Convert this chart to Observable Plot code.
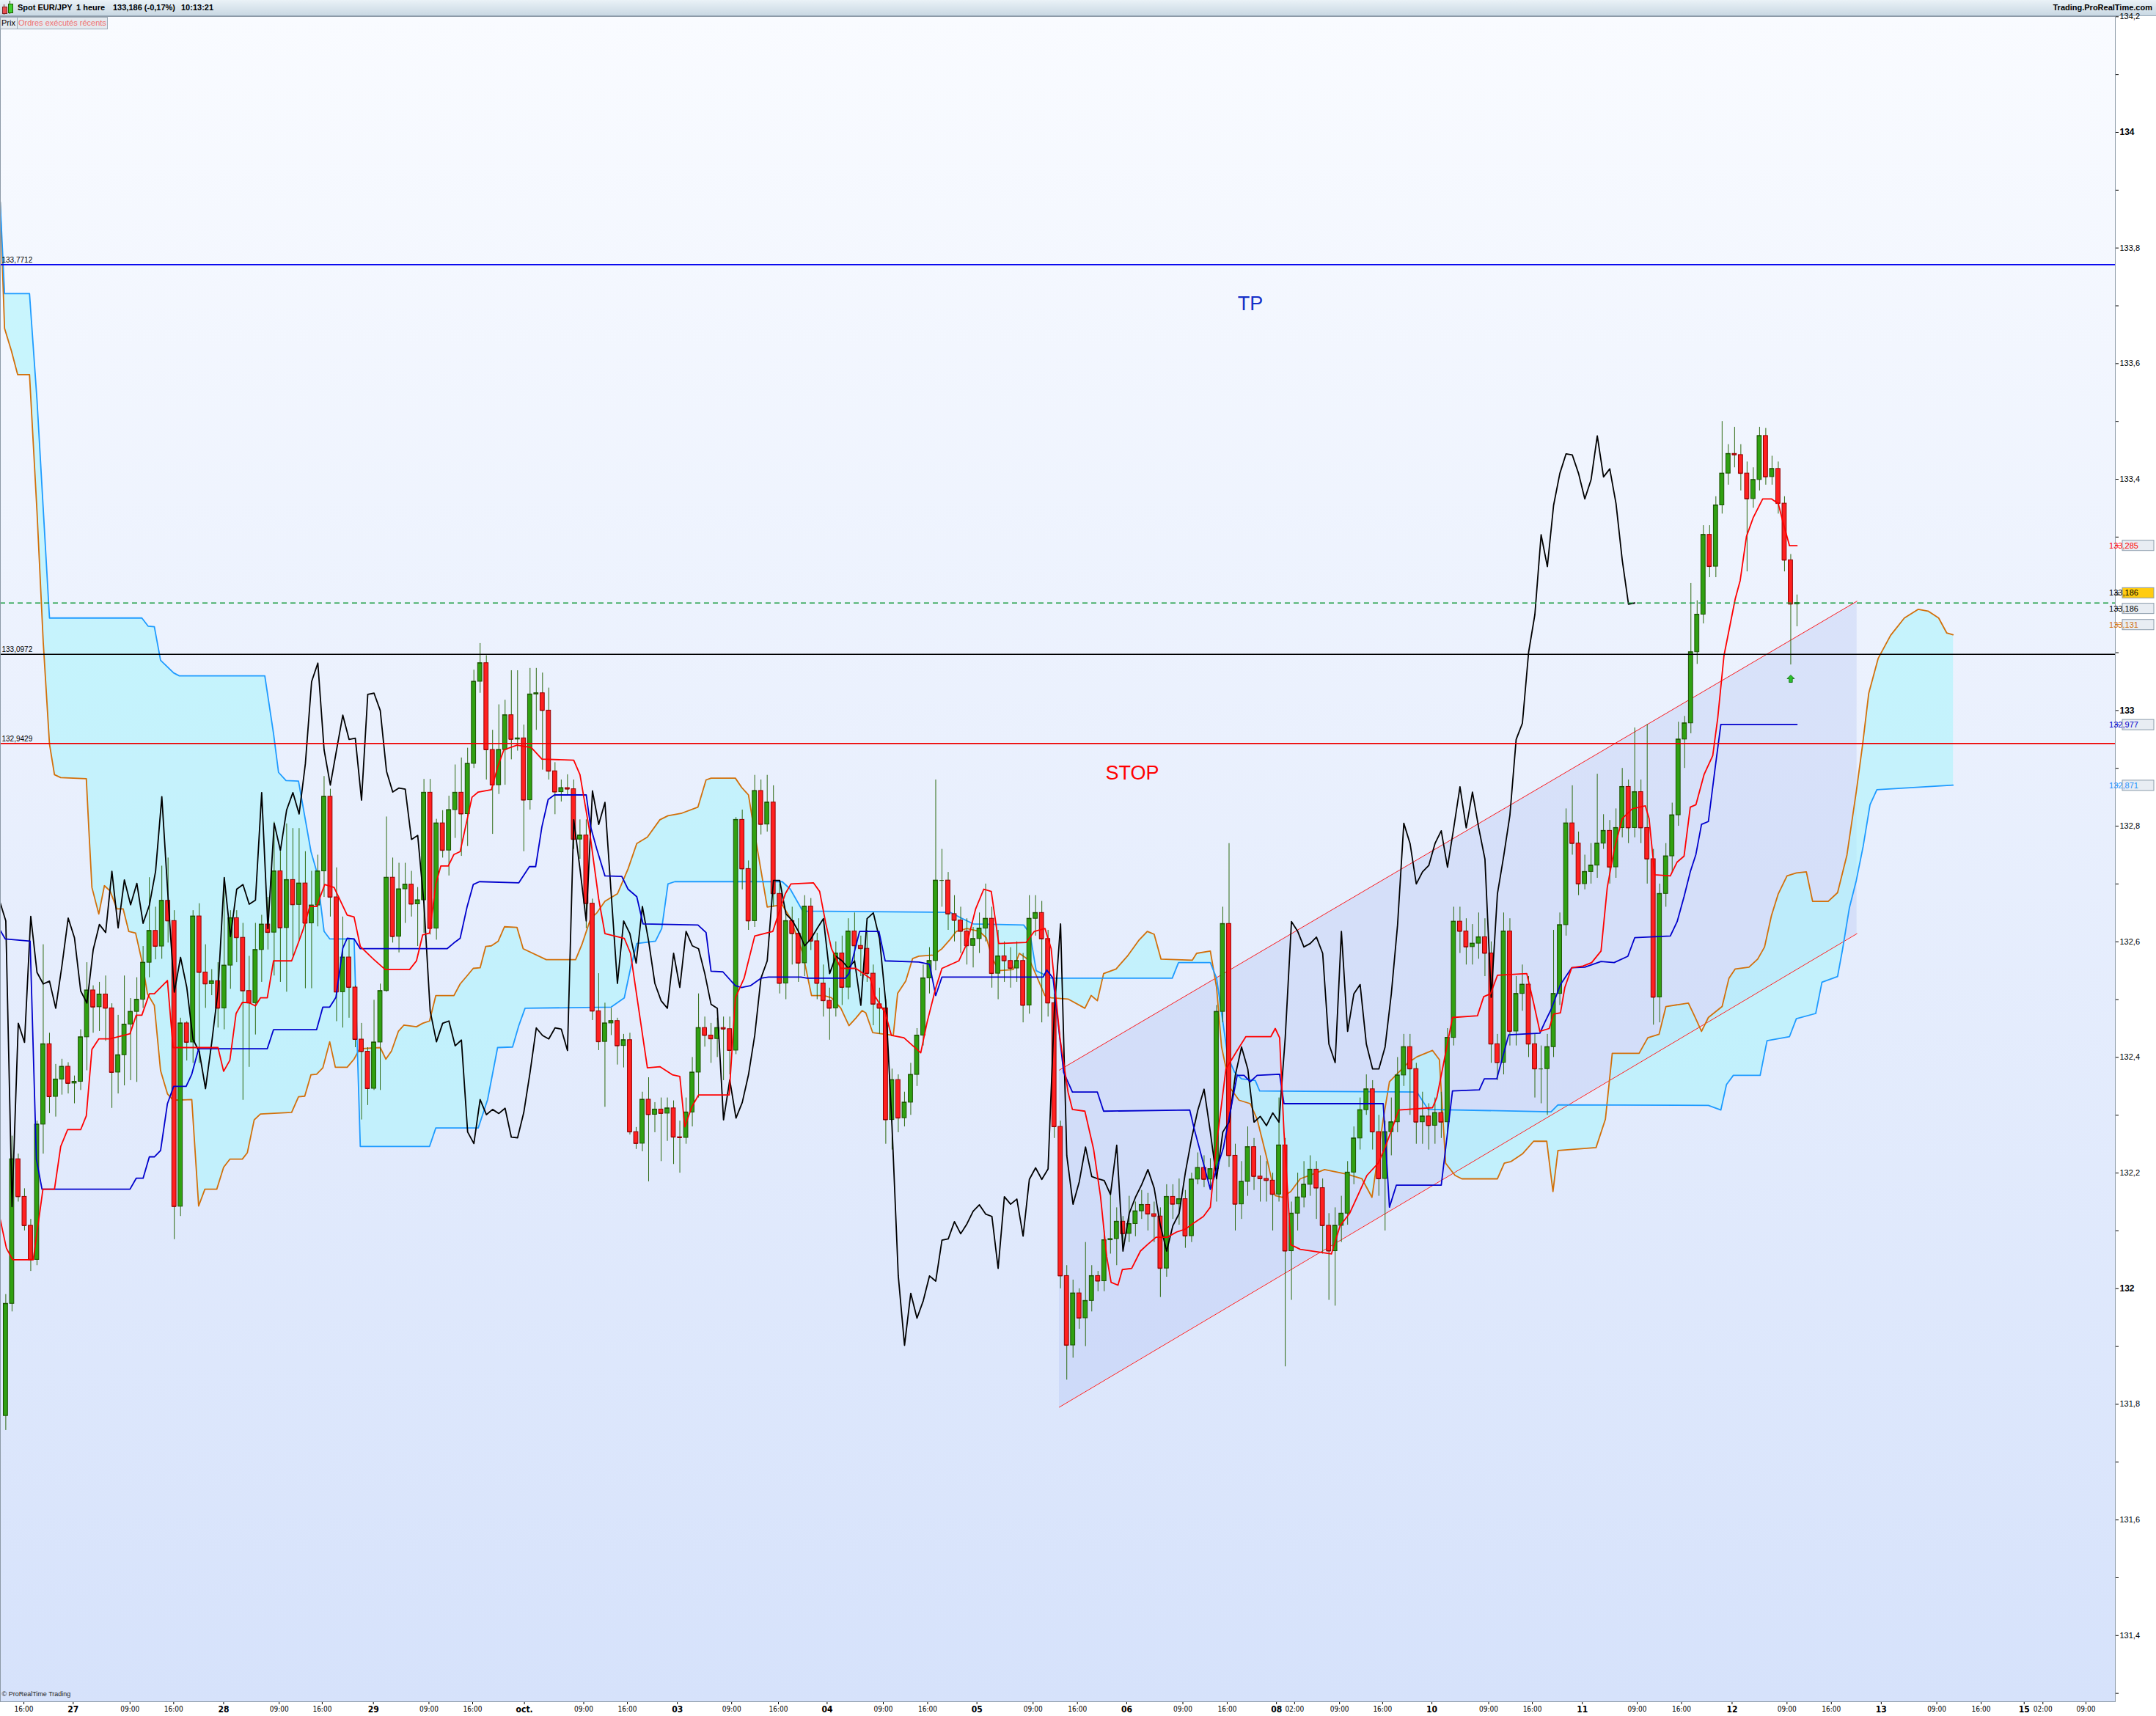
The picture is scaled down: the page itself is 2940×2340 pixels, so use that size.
<!DOCTYPE html>
<html><head><meta charset="utf-8">
<script src="https://cdn.jsdelivr.net/npm/d3@7"></script>
<script src="https://cdn.jsdelivr.net/npm/@observablehq/plot@0.6"></script>
<style>
html,body{margin:0;padding:0;background:#fff;width:2940px;height:2340px;overflow:hidden;font-family:"Liberation Sans",Arial,sans-serif;}
#header{position:absolute;left:0;top:0;width:2940px;height:21px;background:linear-gradient(#eaf2f7,#c9d8e3);border-bottom:1px solid #98a9b8;}
#header .ttl{position:absolute;top:4px;font-weight:bold;font-size:11px;color:#000;white-space:nowrap;}
#header .site{position:absolute;right:5px;top:4px;font-weight:bold;font-size:11px;color:#000;}
#header i{position:absolute;display:block;}
#bg{position:absolute;left:0;top:22px;width:2884px;height:2298px;background:linear-gradient(#f9fbff,#d6e2fb);}
#chart{position:absolute;left:0;top:22px;width:2940px;height:2318px;}
#tab{position:absolute;left:0;top:23px;height:15px;font-size:11px;line-height:15px;z-index:5;}
#tab span{position:absolute;top:0;height:15px;background:#e4e9ee;border:1px solid #9aa8b5;padding:0 1px;white-space:nowrap;}
</style></head>
<body>
<div id="header">
  <i style="left:5px;top:6px;width:1px;height:14px;background:#7a2020"></i>
  <i style="left:3px;top:9px;width:5px;height:8px;background:#e85050;border:1px solid #802020"></i>
  <i style="left:13px;top:1px;width:1px;height:18px;background:#1d5c00"></i>
  <i style="left:11px;top:5px;width:5px;height:11px;background:#40d030;border:1px solid #1d5c00"></i>
  <span class="ttl" style="left:24px">Spot EUR/JPY</span>
  <span class="ttl" style="left:104px">1 heure</span>
  <span class="ttl" style="left:154px">133,186 (-0,17%)</span>
  <span class="ttl" style="left:247px">10:13:21</span>
  <span class="site">Trading.ProRealTime.com</span>
</div>
<div id="bg"></div>
<div id="chart"></div>
<div id="tab"><span style="left:0;width:20px">Prix</span><span style="left:23px;color:#f07070">Ordres exécutés récents</span></div>
<script>
// ---- hourly candles, t = hours from "27" 00:00, first bar t = -11 ----
const firstT = -11;
const openP = [131.780,131.974,132.224,132.159,132.109,132.050,132.284,132.423,132.332,132.362,132.384,
132.355,132.358,132.435,132.516,132.487,132.509,132.485,132.374,132.404,132.457,
132.479,132.500,132.564,132.619,132.592,132.671,132.636,132.142,132.459,132.426,
132.644,132.547,132.527,132.532,132.485,132.559,132.641,132.607,132.515,132.494,
132.586,132.630,132.616,132.722,132.624,132.707,132.664,132.701,132.632,132.663,
132.722,132.851,132.677,132.513,132.573,132.521,132.431,132.410,132.346,132.426,
132.515,132.711,132.609,132.691,132.699,132.665,132.672,132.858,132.623,132.805,
132.758,132.828,132.858,132.821,132.908,133.050,133.082,132.932,132.871,132.932,
132.992,132.950,132.952,132.845,133.028,133.030,133.000,132.895,132.859,132.866,
132.864,132.777,132.784,132.666,132.480,132.427,132.459,132.463,132.420,132.430,
132.271,132.251,132.327,132.301,132.310,132.303,132.312,132.262,132.261,132.305,
132.374,132.451,132.438,132.432,132.451,132.449,132.412,132.811,132.726,132.636,
132.861,132.803,132.841,132.683,132.528,132.636,132.614,132.563,132.661,132.601,
132.528,132.498,132.485,132.580,132.521,132.618,132.593,132.588,132.545,132.492,
132.485,132.292,132.361,132.295,132.322,132.370,132.438,132.537,132.567,132.706,
132.706,132.648,132.637,132.618,132.593,132.605,132.623,132.640,132.545,132.575,
132.567,132.554,132.567,132.490,132.640,132.650,132.605,132.494,132.280,132.022,
131.902,131.992,131.949,131.979,132.022,132.013,132.084,132.086,132.116,132.095,
132.112,132.134,132.145,132.129,132.125,132.035,132.159,132.146,132.155,132.091,
132.189,132.209,132.189,132.207,132.479,132.631,132.230,132.146,132.185,132.245,
132.194,132.190,132.187,132.163,132.248,132.065,132.130,132.158,132.180,132.206,
132.174,132.109,132.065,132.109,132.130,132.201,132.260,132.309,132.345,132.271,
132.190,132.271,132.288,132.369,132.418,132.380,132.288,132.298,132.282,132.304,
132.288,132.434,132.635,132.618,132.591,132.597,132.608,132.580,132.423,132.391,
132.618,132.445,132.510,132.526,132.423,132.380,132.380,132.418,132.510,132.629,
132.805,132.770,132.700,132.721,132.732,132.770,132.792,132.729,132.797,132.868,
132.797,132.859,132.797,132.743,132.504,132.683,132.748,132.819,132.950,132.978,
133.101,133.166,133.304,133.249,133.355,133.410,133.444,133.442,133.410,133.366,
133.399,133.475,133.404,133.418,133.358,133.260,133.184];
const highP = [131.990,132.264,132.233,132.173,132.120,132.290,132.595,132.442,132.388,132.397,132.391,
132.368,132.448,132.564,132.524,132.530,132.541,132.493,132.473,132.541,132.502,
132.538,132.592,132.711,132.660,132.731,132.745,132.654,132.468,132.462,132.654,
132.666,132.595,132.552,132.564,132.711,132.654,132.654,132.632,132.575,132.632,
132.646,132.677,132.807,132.756,132.804,132.796,132.796,132.756,132.722,132.750,
132.886,132.864,132.728,132.643,132.603,132.524,132.459,132.417,132.499,132.527,
132.816,132.745,132.736,132.736,132.722,132.694,132.881,132.881,132.812,132.827,
132.852,132.906,132.918,132.935,133.070,133.116,133.095,132.966,133.010,133.018,
133.069,133.069,132.975,133.073,133.073,133.065,133.039,132.910,132.880,132.889,
132.880,132.811,132.811,132.674,132.545,132.494,132.485,132.468,132.440,132.442,
132.279,132.340,132.365,132.322,132.330,132.330,132.325,132.290,132.330,132.400,
132.510,132.470,132.459,132.468,132.470,132.470,132.815,132.828,132.740,132.888,
132.880,132.888,132.870,132.700,132.650,132.660,132.640,132.680,132.675,132.615,
132.560,132.520,132.600,132.610,132.640,132.650,132.610,132.620,132.560,132.520,
132.500,132.380,132.370,132.340,132.390,132.450,132.560,132.590,132.880,132.760,
132.720,132.680,132.660,132.640,132.625,132.650,132.700,132.660,132.620,132.600,
132.590,132.600,132.580,132.680,132.680,132.670,132.620,132.510,132.290,132.040,
132.015,132.000,132.080,132.040,132.030,132.100,132.170,132.140,132.125,132.160,
132.150,132.170,132.165,132.150,132.140,132.180,132.180,132.190,132.170,132.200,
132.235,132.230,132.225,132.490,132.660,132.770,132.250,132.220,132.280,132.260,
132.230,132.220,132.200,132.330,132.260,132.150,132.200,132.220,132.230,132.220,
132.190,132.130,132.140,132.160,132.220,132.280,132.330,132.370,132.360,132.300,
132.290,132.330,132.400,132.440,132.440,132.390,132.340,132.320,132.330,132.340,
132.450,132.660,132.660,132.640,132.630,132.650,132.640,132.600,132.440,132.650,
132.640,132.540,132.560,132.540,132.440,132.420,132.440,132.620,132.650,132.830,
132.870,132.790,132.750,132.770,132.890,132.820,132.810,132.830,132.900,132.880,
132.970,132.880,132.976,132.760,132.700,132.770,132.840,132.980,132.990,133.220,
133.190,133.320,133.320,133.370,133.500,133.460,133.490,133.460,133.430,133.420,
133.490,133.488,133.440,133.430,133.370,133.270,133.200];
const lowP = [131.755,131.960,132.150,132.100,132.030,132.040,132.233,132.303,132.297,132.335,132.337,
132.320,132.343,132.377,132.442,132.445,132.428,132.312,132.337,132.351,132.360,
132.357,132.485,132.538,132.569,132.570,132.598,132.085,132.125,132.394,132.390,
132.390,132.485,132.507,132.451,132.448,132.518,132.564,132.326,132.383,132.439,
132.530,132.586,132.541,132.530,132.513,132.575,132.603,132.519,132.519,132.626,
132.677,132.643,132.462,132.451,132.468,132.417,132.292,132.317,132.343,132.343,
132.513,132.598,132.581,132.632,132.643,132.592,132.615,132.612,132.603,132.745,
132.714,132.779,132.748,132.765,132.900,133.030,132.880,132.786,132.855,132.871,
132.915,132.930,132.756,132.828,132.966,132.897,132.880,132.820,132.842,132.854,
132.760,132.743,132.623,132.464,132.412,132.314,132.438,132.387,132.382,132.266,
132.241,132.237,132.185,132.270,132.220,132.255,132.215,132.200,132.250,132.280,
132.330,132.418,132.390,132.400,132.360,132.370,132.405,132.690,132.620,132.625,
132.785,132.790,132.660,132.510,132.500,132.560,132.530,132.540,132.585,132.500,
132.470,132.430,132.470,132.490,132.500,132.560,132.540,132.530,132.455,132.440,
132.250,132.240,132.270,132.280,132.300,132.350,132.420,132.510,132.550,132.660,
132.620,132.600,132.580,132.560,132.555,132.580,132.600,132.520,132.500,132.530,
132.520,132.530,132.460,132.475,132.610,132.460,132.470,132.260,132.000,131.842,
131.880,131.930,131.900,131.960,131.995,131.995,132.060,132.040,132.075,132.080,
132.090,132.120,132.100,132.080,131.985,132.020,132.120,132.110,132.070,132.080,
132.180,132.175,132.170,132.150,132.460,132.210,132.100,132.120,132.160,132.170,
132.150,132.150,132.100,132.150,131.865,131.980,132.100,132.140,132.160,132.120,
132.060,131.980,131.970,132.080,132.110,132.180,132.240,132.300,132.240,132.160,
132.100,132.230,132.270,132.350,132.300,132.250,132.250,132.240,132.250,132.260,
132.270,132.420,132.580,132.560,132.560,132.570,132.540,132.390,132.360,132.370,
132.420,132.420,132.480,132.400,132.330,132.320,132.300,132.400,132.490,132.610,
132.750,132.680,132.690,132.700,132.710,132.760,132.700,132.710,132.780,132.770,
132.780,132.770,132.700,132.456,132.460,132.660,132.720,132.800,132.900,132.960,
133.080,133.150,133.230,133.230,133.340,133.390,133.420,133.380,133.240,133.350,
133.380,133.390,133.390,133.340,133.240,133.079,133.145];
const closeP = [131.974,132.224,132.159,132.109,132.050,132.284,132.423,132.332,132.362,132.384,132.355,
132.358,132.435,132.516,132.487,132.509,132.485,132.374,132.404,132.457,132.479,
132.500,132.564,132.619,132.592,132.671,132.636,132.142,132.459,132.426,132.644,
132.547,132.527,132.532,132.485,132.559,132.641,132.607,132.515,132.494,132.586,
132.630,132.616,132.722,132.624,132.707,132.664,132.701,132.632,132.663,132.722,
132.851,132.677,132.513,132.573,132.521,132.431,132.410,132.346,132.426,132.515,
132.711,132.609,132.691,132.699,132.665,132.672,132.858,132.623,132.805,132.758,
132.828,132.858,132.821,132.908,133.050,133.082,132.932,132.871,132.932,132.992,
132.950,132.952,132.845,133.028,133.030,133.000,132.895,132.859,132.866,132.864,
132.777,132.784,132.666,132.480,132.427,132.459,132.463,132.420,132.430,132.271,
132.251,132.327,132.301,132.310,132.303,132.312,132.262,132.261,132.305,132.374,
132.451,132.438,132.432,132.451,132.449,132.412,132.811,132.726,132.636,132.861,
132.803,132.841,132.683,132.528,132.636,132.614,132.563,132.661,132.601,132.528,
132.498,132.485,132.580,132.521,132.618,132.593,132.588,132.545,132.492,132.485,
132.292,132.361,132.295,132.322,132.370,132.438,132.537,132.567,132.706,132.706,
132.648,132.637,132.618,132.593,132.605,132.623,132.640,132.545,132.575,132.567,
132.554,132.567,132.490,132.640,132.650,132.605,132.494,132.280,132.022,131.902,
131.992,131.949,131.979,132.022,132.013,132.084,132.086,132.116,132.095,132.112,
132.134,132.145,132.129,132.125,132.035,132.159,132.146,132.155,132.091,132.189,
132.209,132.189,132.207,132.479,132.631,132.230,132.146,132.185,132.245,132.194,
132.190,132.187,132.163,132.248,132.065,132.130,132.158,132.180,132.206,132.174,
132.109,132.065,132.109,132.130,132.201,132.260,132.309,132.345,132.271,132.190,
132.271,132.288,132.369,132.418,132.380,132.288,132.298,132.282,132.304,132.288,
132.434,132.635,132.618,132.591,132.597,132.608,132.580,132.423,132.391,132.618,
132.445,132.510,132.526,132.423,132.380,132.380,132.418,132.510,132.629,132.805,
132.770,132.700,132.721,132.732,132.770,132.792,132.729,132.797,132.868,132.797,
132.859,132.797,132.743,132.504,132.683,132.748,132.819,132.950,132.978,133.101,
133.166,133.304,133.249,133.355,133.410,133.444,133.442,133.410,133.366,133.399,
133.475,133.404,133.418,133.358,133.260,133.184,133.186];

// ---- Ichimoku lines as [hour, price] breakpoints ----
const tenkan = [[-11.9,132.12],[-10.9,132.07],[-9.9,132.05],[-6.6,132.05],[-5.05,132.172],[-3.2,132.172],[-2.2,132.246],[-1.1,132.275],[1.0,132.275],[1.9,132.299],[2.8,132.414],[3.9,132.432],[5.7,132.432],[8.9,132.441],[9.9,132.473],[10.8,132.473],[12.0,132.510],[12.8,132.510],[14.9,132.533],[15.8,132.417],[23.0,132.417],[23.9,132.376],[24.9,132.395],[25.9,132.476],[26.9,132.495],[27.9,132.495],[29.0,132.489],[29.8,132.503],[30.9,132.503],[31.9,132.567],[34.8,132.567],[35.9,132.599],[36.7,132.623],[37.7,132.661],[38.8,132.661],[40.1,132.699],[41.6,132.694],[43.7,132.646],[44.8,132.643],[45.8,132.592],[48.0,132.569],[49.8,132.552],[53.7,132.552],[54.8,132.567],[55.8,132.612],[56.9,132.615],[57.9,132.700],[58.7,132.731],[59.9,132.731],[60.8,132.751],[61.8,132.756],[63.7,132.850],[64.7,132.859],[66.8,132.863],[67.8,132.902],[68.8,132.932],[70.9,132.940],[73.2,132.936],[74.9,132.916],[80.0,132.914],[81.0,132.889],[82.5,132.794],[84.0,132.674],[85.0,132.614],[88.1,132.606],[89.1,132.580],[91.8,132.382],[93.8,132.384],[95.8,132.370],[97.0,132.367],[97.8,132.280],[98.9,132.314],[100.0,132.335],[104.9,132.335],[105.9,132.503],[107.3,132.537],[109.0,132.610],[111.9,132.618],[112.8,132.648],[113.9,132.683],[114.8,132.700],[118.4,132.702],[119.4,132.687],[120.4,132.631],[121.3,132.588],[122.8,132.554],[125.2,132.554],[127.5,132.537],[128.2,132.507],[129.9,132.477],[130.9,132.438],[132.9,132.434],[135.6,132.408],[136.6,132.460],[138.0,132.520],[139.0,132.554],[141.7,132.567],[143.0,132.597],[144.4,132.657],[145.7,132.691],[146.9,132.687],[148.1,132.597],[152.5,132.599],[153.8,132.618],[155.5,132.623],[156.5,132.588],[157.9,132.434],[159.2,132.340],[159.9,132.310],[161.9,132.307],[163.3,132.241],[164.4,132.160],[165.4,132.055],[166.1,132.011],[167.2,132.006],[167.9,132.033],[169.4,132.035],[170.8,132.065],[171.9,132.076],[173.3,132.089],[175.1,132.089],[176.6,132.098],[178.0,132.103],[179.4,132.114],[180.9,132.125],[182.0,132.141],[183.0,132.250],[184.5,132.380],[186.3,132.412],[187.7,132.436],[191.7,132.436],[192.4,132.450],[193.1,132.434],[193.8,132.271],[194.9,132.076],[196.4,132.068],[201.4,132.060],[202.8,132.109],[204.3,132.130],[205.7,132.163],[207.1,132.196],[208.9,132.217],[210.0,132.244],[211.5,132.288],[212.2,132.309],[217.6,132.313],[218.3,132.331],[219.4,132.391],[220.8,132.469],[224.8,132.472],[225.8,132.505],[226.9,132.510],[228.0,132.542],[232.7,132.545],[233.8,132.494],[234.8,132.445],[236.3,132.450],[237.0,132.475],[238.1,132.477],[238.8,132.521],[239.9,132.555],[241.7,132.558],[243.1,132.564],[244.6,132.584],[245.6,132.694],[246.7,132.759],[248.0,132.813],[249.6,132.830],[251.7,132.835],[252.3,132.813],[253.2,132.716],[255.7,132.714],[256.8,132.738],[257.9,132.748],[258.9,132.833],[259.8,132.837],[261.1,132.889],[262.5,132.922],[263.3,132.987],[264.3,133.095],[266.1,133.193],[266.9,133.225],[267.9,133.301],[269.0,133.334],[270.5,133.366],[271.9,133.366],[273.0,133.358],[273.7,133.328],[274.8,133.285],[276.0,133.285]];
const kijun = [[-11.9,132.620],[-11.1,132.605],[-7.1,132.601],[-6.1,132.224],[-5.2,132.172],[8.9,132.172],[9.9,132.191],[11.0,132.191],[12.0,132.228],[12.8,132.228],[13.8,132.239],[14.9,132.320],[15.9,132.350],[17.9,132.350],[18.8,132.371],[19.9,132.415],[30.9,132.415],[31.9,132.448],[38.8,132.448],[39.8,132.487],[40.9,132.487],[41.9,132.504],[43.0,132.589],[43.7,132.606],[44.8,132.605],[45.8,132.588],[59.7,132.588],[60.8,132.598],[61.8,132.606],[62.9,132.660],[63.9,132.699],[64.9,132.704],[71.2,132.702],[72.9,132.730],[73.9,132.730],[74.9,132.799],[75.9,132.846],[76.9,132.854],[82.0,132.854],[82.7,132.799],[83.7,132.760],[85.0,132.714],[87.7,132.713],[88.7,132.691],[90.1,132.678],[91.1,132.631],[99.9,132.629],[101.2,132.616],[102.0,132.549],[103.9,132.548],[105.9,132.524],[106.9,132.521],[108.3,132.524],[110.0,132.537],[111.2,132.539],[116.4,132.539],[117.4,132.537],[123.5,132.537],[124.1,132.545],[125.8,132.618],[128.9,132.618],[129.9,132.567],[135.3,132.565],[137.0,132.561],[138.0,132.507],[139.0,132.539],[155.2,132.539],[155.8,132.551],[156.8,132.537],[158.5,132.374],[159.9,132.340],[163.9,132.340],[164.9,132.307],[178.7,132.309],[179.4,132.277],[182.0,132.172],[183.0,132.206],[184.1,132.244],[186.3,132.369],[187.4,132.369],[188.4,132.358],[189.5,132.369],[193.1,132.371],[193.8,132.320],[209.7,132.320],[210.7,132.141],[211.8,132.179],[219.0,132.179],[220.8,132.342],[225.1,132.344],[225.9,132.363],[227.9,132.363],[229.8,132.439],[234.8,132.442],[235.6,132.461],[236.6,132.483],[238.1,132.526],[239.9,132.555],[242.0,132.556],[244.6,132.566],[246.7,132.564],[248.9,132.575],[250.0,132.607],[255.7,132.610],[256.8,132.635],[257.9,132.678],[258.9,132.721],[259.8,132.751],[260.7,132.803],[261.8,132.808],[262.9,132.902],[263.8,132.976],[276.0,132.976]];
const senkouA = [[-11.9,133.88],[-11.2,133.661],[-10.1,133.622],[-9.1,133.581],[-7.2,133.581],[-6.0,133.344],[-5.0,133.118],[-4.0,132.942],[-3.2,132.889],[-2.2,132.884],[1.9,132.882],[2.3,132.796],[2.8,132.694],[3.9,132.648],[4.8,132.697],[5.7,132.688],[6.8,132.657],[7.8,132.657],[8.7,132.618],[9.8,132.615],[10.8,132.567],[11.7,132.510],[12.8,132.490],[13.8,132.377],[14.9,132.337],[15.8,132.326],[18.8,132.327],[19.9,132.143],[20.9,132.172],[22.8,132.172],[23.9,132.210],[24.9,132.224],[26.9,132.224],[27.7,132.235],[28.8,132.292],[29.8,132.302],[34.8,132.305],[35.9,132.332],[36.9,132.333],[37.9,132.370],[38.8,132.371],[39.8,132.382],[40.9,132.427],[41.8,132.383],[43.7,132.383],[44.8,132.397],[45.7,132.415],[49.0,132.417],[49.9,132.397],[50.8,132.411],[51.9,132.445],[52.8,132.456],[54.8,132.453],[55.8,132.459],[56.9,132.463],[57.9,132.507],[60.8,132.507],[61.8,132.527],[62.9,132.541],[63.9,132.554],[65.0,132.555],[65.9,132.592],[66.8,132.593],[67.9,132.601],[68.9,132.626],[70.9,132.625],[71.9,132.588],[75.6,132.569],[80.3,132.569],[81.3,132.595],[82.7,132.640],[83.7,132.650],[85.0,132.670],[87.0,132.683],[88.7,132.726],[90.1,132.770],[91.8,132.781],[93.8,132.811],[95.1,132.818],[97.2,132.822],[99.9,132.833],[101.2,132.880],[102.0,132.883],[105.9,132.883],[106.9,132.867],[108.0,132.854],[109.3,132.768],[111.0,132.660],[113.4,132.664],[114.7,132.641],[116.7,132.580],[118.1,132.507],[120.1,132.507],[121.3,132.503],[122.8,132.485],[124.1,132.455],[125.2,132.468],[126.2,132.481],[126.8,132.477],[127.9,132.443],[131.2,132.438],[131.9,132.511],[133.2,132.532],[134.3,132.571],[135.3,132.575],[137.6,132.577],[139.0,132.588],[140.3,132.604],[141.3,132.618],[143.0,132.623],[145.0,132.618],[146.1,132.607],[147.1,132.571],[148.1,132.550],[150.4,132.552],[151.4,132.580],[153.1,132.567],[155.5,132.507],[156.5,132.503],[159.2,132.501],[161.9,132.485],[162.9,132.507],[163.9,132.498],[164.9,132.545],[166.9,132.553],[168.7,132.575],[170.5,132.602],[171.9,132.618],[173.0,132.613],[174.1,132.570],[179.1,132.568],[179.8,132.580],[182.0,132.584],[183.0,132.521],[183.8,132.418],[185.2,132.347],[186.6,132.326],[188.4,132.320],[189.5,132.293],[191.0,132.228],[192.4,132.161],[193.5,132.158],[194.9,132.168],[196.4,132.190],[198.9,132.200],[200.3,132.206],[203.9,132.198],[206.3,132.190],[207.9,132.158],[209.7,132.293],[210.7,132.358],[213.6,132.390],[215.1,132.401],[217.6,132.412],[218.7,132.396],[219.7,132.217],[221.2,132.196],[222.3,132.190],[228.0,132.190],[229.1,132.217],[230.2,132.220],[232.0,132.233],[233.8,132.255],[235.9,132.255],[236.9,132.168],[237.7,132.239],[243.8,132.244],[245.3,132.293],[246.4,132.407],[250.7,132.407],[252.1,132.434],[253.9,132.440],[255.0,132.488],[258.6,132.494],[259.7,132.469],[260.7,132.445],[261.8,132.469],[264.0,132.488],[265.1,132.537],[266.1,132.553],[268.3,132.556],[269.7,132.570],[270.8,132.591],[271.9,132.645],[273.0,132.683],[274.4,132.714],[275.9,132.719],[277.5,132.721],[278.5,132.670],[281.0,132.670],[282.5,132.685],[284.0,132.750],[285.5,132.860],[286.5,132.940],[287.5,133.030],[289.0,133.090],[291.0,133.130],[293.2,133.160],[295.4,133.175],[297.0,133.172],[298.7,133.160],[300.0,133.134],[301.0,133.131]];
const senkouB = [[-11.9,133.88],[-11.2,133.721],[-7.2,133.721],[-6.0,133.537],[-4.0,133.160],[10.8,133.160],[11.8,133.146],[12.8,133.145],[13.8,133.087],[15.9,133.065],[16.8,133.060],[30.5,133.060],[31.9,132.960],[32.7,132.893],[33.9,132.879],[35.9,132.878],[37.9,132.756],[38.8,132.722],[40.0,132.618],[40.9,132.605],[44.8,132.605],[45.8,132.246],[56.9,132.246],[57.9,132.278],[64.7,132.278],[66.2,132.327],[67.8,132.417],[70.2,132.418],[71.2,132.455],[72.2,132.485],[86.0,132.487],[88.1,132.503],[89.1,132.554],[90.1,132.597],[93.1,132.601],[94.1,132.623],[95.1,132.700],[96.2,132.704],[113.4,132.704],[114.7,132.691],[116.7,132.653],[140.3,132.651],[142.3,132.640],[144.0,132.631],[152.1,132.629],[153.1,132.614],[154.1,132.550],[156.5,132.537],[175.9,132.537],[176.9,132.564],[182.0,132.564],[183.0,132.537],[183.8,132.477],[184.8,132.401],[185.9,132.374],[187.0,132.363],[189.2,132.360],[189.9,132.342],[215.1,132.340],[216.9,132.310],[236.6,132.306],[237.7,132.318],[261.8,132.317],[263.8,132.309],[264.7,132.353],[265.8,132.369],[270.1,132.369],[271.2,132.429],[274.8,132.436],[275.9,132.467],[279.0,132.476],[280.0,132.530],[282.5,132.540],[283.3,132.587],[284.4,132.659],[285.5,132.706],[286.6,132.765],[287.7,132.837],[288.8,132.863],[301.0,132.871]];

// ---- drawn channel ----
const channelT = [157.8, 285.6];
const channelLow = [131.795, 132.614];
const channelHigh = [132.378, 133.189];

// ---- horizontal levels ----
const levelValues = [133.7712, 133.0972, 132.9429];
const levelLabels = ["133,7712", "133,0972", "132,9429"];
const levelColors = ["#0000ee", "#000000", "#ee0000"];
const lastPrice = 133.186;

// ---- notes ----
const noteT = [188.4, 169.5];
const noteV = [133.703, 132.892];
const noteText = ["TP", "STOP"];
const arrowT = [275], arrowV = [133.055];

// ---- axis ticks ----
const tickT = [-8.1,-0.2,8.9,15.9,23.9,32.8,39.7,47.9,56.8,63.8,72.1,81.6,88.6,96.6,105.3,112.8,120.6,129.6,136.7,144.6,153.6,160.7,168.6,177.6,184.7,192.6,195.5,202.7,209.6,217.5,226.6,233.6,241.6,250.4,257.5,265.6,274.4,281.5,289.5,298.4,305.5,312.4,315.4,322.3];
const tickLabels = ["16:00","27","09:00","16:00","28","09:00","16:00","29","09:00","16:00","oct.","09:00","16:00","03","09:00","16:00","04","09:00","16:00","05","09:00","16:00","06","09:00","16:00","08","02:00","09:00","16:00","10","09:00","16:00","11","09:00","16:00","12","09:00","16:00","13","09:00","16:00","15","02:00","09:00"];
const yTickTenths = d3.range(1313, 1343);
const yHiddenLabels = [1332];   // hidden behind the value tags

// ---- right-axis value tags ----
const tagPos = [133.285, 133.203, 133.176, 133.148, 132.975, 132.870];
const tagText = ["133,285", "133,186", "133,186", "133,131", "132,977", "132,871"];
const tagColor = ["#ff0000", "#000000", "#000000", "#d2700a", "#0000cc", "#1e90ff"];
const tagBg = ["#e8edf3", "#ffcc11", "#e8edf3", "#e8edf3", "#e8edf3", "#e8edf3"];

// ================= build =================
const bars = closeP.map((c, i) => ({t: firstT + i, o: openP[i], h: highP[i], l: lowP[i], c}));
const upBars = bars.filter(d => d.c >= d.o), dnBars = bars.filter(d => d.c < d.o);
const chikou = bars.filter(d => d.t - 26 >= -12).map(d => ({t: d.t - 26, v: d.c}));
const cloud = senkouA.concat(senkouB.slice().reverse());
const channel = channelT.map((t, i) => ({t, lo: channelLow[i], hi: channelHigh[i]}));
const levels = levelValues.map((v, i) => ({v, label: levelLabels[i], color: levelColors[i]}));
const tickMap = new Map(tickT.map((t, i) => [t, tickLabels[i]]));
const yTicks = yTickTenths.map(d => d / 10);
const fmtY = d => { const r = Math.round(d * 10); if (r % 2 || yHiddenLabels.includes(r)) return ""; return r % 10 === 0 ? String(r / 10) : (r / 10).toFixed(1).replace(".", ","); };
const px = {x: d => d[0], y: d => d[1]};
const arrowSym = {draw(ctx, size) { const s = Math.sqrt(size / Math.PI);
  ctx.moveTo(0, -s); ctx.lineTo(s, 0); ctx.lineTo(s * 0.45, 0); ctx.lineTo(s * 0.45, s);
  ctx.lineTo(-s * 0.45, s); ctx.lineTo(-s * 0.45, 0); ctx.lineTo(-s, 0); ctx.closePath(); }};
const BW = 0.34;

const W = 2940, H = 2318, MR = 56, MB = 20;
const chart = Plot.plot({
  width: W, height: H,
  marginLeft: 0, marginRight: MR, marginTop: 0, marginBottom: MB,
  style: {background: "transparent", fontFamily: "'Liberation Sans', Arial, sans-serif", fontSize: "11px", color: "#000", overflow: "visible"},
  x: {domain: [-11.87, 327.0], ticks: tickT, tickFormat: d => tickMap.get(d) ?? "", tickSize: 4, tickPadding: 2, label: null},
  y: {domain: [131.2856, 134.2004], axis: "right", ticks: yTicks, tickFormat: fmtY, tickSize: 4, tickPadding: 2, label: null},
  marks: [
    Plot.areaY(channel, {x: "t", y1: "lo", y2: "hi", fill: "#a9b9f0", fillOpacity: 0.28}),
    Plot.line(cloud, {...px, fill: "#aef4fb", fillOpacity: 0.62, stroke: "none"}),
    Plot.line(channel, {x: "t", y: "hi", stroke: "#ff2020", strokeWidth: 1}),
    Plot.line(channel, {x: "t", y: "lo", stroke: "#ff2020", strokeWidth: 1}),
    Plot.line(senkouA, {...px, stroke: "#d2700a", strokeWidth: 1.8}),
    Plot.line(senkouB, {...px, stroke: "#1e9bff", strokeWidth: 1.8}),
    Plot.ruleX(bars, {x: "t", y1: "l", y2: "h", stroke: "#2e6a12", strokeWidth: 1}),
    Plot.rect(upBars, {x1: d => d.t - BW, x2: d => d.t + BW, y1: "o", y2: "c", fill: "#30a012", stroke: "#1b5200", strokeWidth: 1}),
    Plot.rect(dnBars, {x1: d => d.t - BW, x2: d => d.t + BW, y1: "o", y2: "c", fill: "#ff2020", stroke: "#960000", strokeWidth: 1}),
    Plot.ruleY(upBars, {y: "c", x1: d => d.t - BW, x2: d => d.t + BW, stroke: "#1b5200", strokeWidth: 1}),
    Plot.ruleY(dnBars, {y: "c", x1: d => d.t - BW, x2: d => d.t + BW, stroke: "#960000", strokeWidth: 1}),
    Plot.line(chikou, {x: "t", y: "v", stroke: "#000000", strokeWidth: 1.8}),
    Plot.line(kijun, {...px, stroke: "#0000cc", strokeWidth: 1.8}),
    Plot.line(tenkan, {...px, stroke: "#ff0000", strokeWidth: 1.8}),
    Plot.ruleY(levels.slice(0, 1), {y: "v", stroke: "#0000ee", strokeWidth: 1.6}),
    Plot.ruleY(levels.slice(1, 2), {y: "v", stroke: "#000000", strokeWidth: 1.6}),
    Plot.ruleY(levels.slice(2, 3), {y: "v", stroke: "#ee0000", strokeWidth: 1.6}),
    Plot.ruleY([lastPrice], {stroke: "#139a3a", strokeWidth: 1.4, strokeDasharray: "7,5"}),
    Plot.text(levels, {y: "v", text: "label", frameAnchor: "left", dx: 2, dy: -6, textAnchor: "start", fontSize: 10, fill: "#000"}),
    Plot.text([0], {x: noteT[0], y: noteV[0], text: () => noteText[0], fill: "#1530c8", fontSize: 27}),
    Plot.text([0], {x: noteT[1], y: noteV[1], text: () => noteText[1], fill: "#ff0000", fontSize: 27}),
    Plot.dot(arrowT.map((t, i) => ({t, v: arrowV[i]})), {x: "t", y: "v", symbol: arrowSym, r: 5, fill: "#2cc02c", stroke: "#0a6a0a", strokeWidth: 0.8}),
    Plot.text(["© ProRealTime Trading"], {frameAnchor: "bottom-left", dx: 2, dy: -8, textAnchor: "start", fontSize: 9, fill: "#222"}),
    Plot.frame({stroke: "#8d9aa7"})
  ]
});
document.getElementById("chart").appendChild(chart);

// axis label styling
const daySet = new Set(["27","28","29","oct.","03","04","05","06","08","10","11","12","13","15"]);
chart.querySelectorAll("text").forEach(el => {
  const s = el.textContent;
  if (/^\d\d:\d\d$/.test(s)) { el.setAttribute("font-size", "10"); el.setAttribute("font-family", "'Liberation Sans Narrow','DejaVu Sans Condensed','Liberation Sans',sans-serif"); }
  else if (daySet.has(s)) { el.setAttribute("font-size", "12"); el.setAttribute("font-weight", "bold"); el.setAttribute("font-family", "'Liberation Sans Narrow','DejaVu Sans Condensed','Liberation Sans',sans-serif"); }
  else if (/^13[1-4]$/.test(s)) { el.setAttribute("font-size", "12"); el.setAttribute("font-weight", "bold"); }
});

// right-axis value tags, positioned with the plot's y scale
const ys = chart.scale("y");
const yPix = ys.apply ? (v => ys.apply(v)) : (v => ys.range[0] + (v - ys.domain[0]) / (ys.domain[1] - ys.domain[0]) * (ys.range[1] - ys.range[0]));
const gT = d3.select(chart).append("g").attr("font-size", 11);
const axX = W - MR;
tagPos.forEach((v, i) => {
  const y = yPix(v);
  gT.append("line").attr("x1", axX).attr("x2", axX + 6).attr("y1", y).attr("y2", y).attr("stroke", tagColor[i]);
  gT.append("rect").attr("x", axX + 10).attr("y", y - 7).attr("width", 43).attr("height", 14).attr("fill", tagBg[i]).attr("stroke", "#8a9aaa");
  gT.append("text").attr("x", axX + 12).attr("y", y + 4).attr("fill", tagColor[i]).text(tagText[i]);
});
</script>
</body></html>
